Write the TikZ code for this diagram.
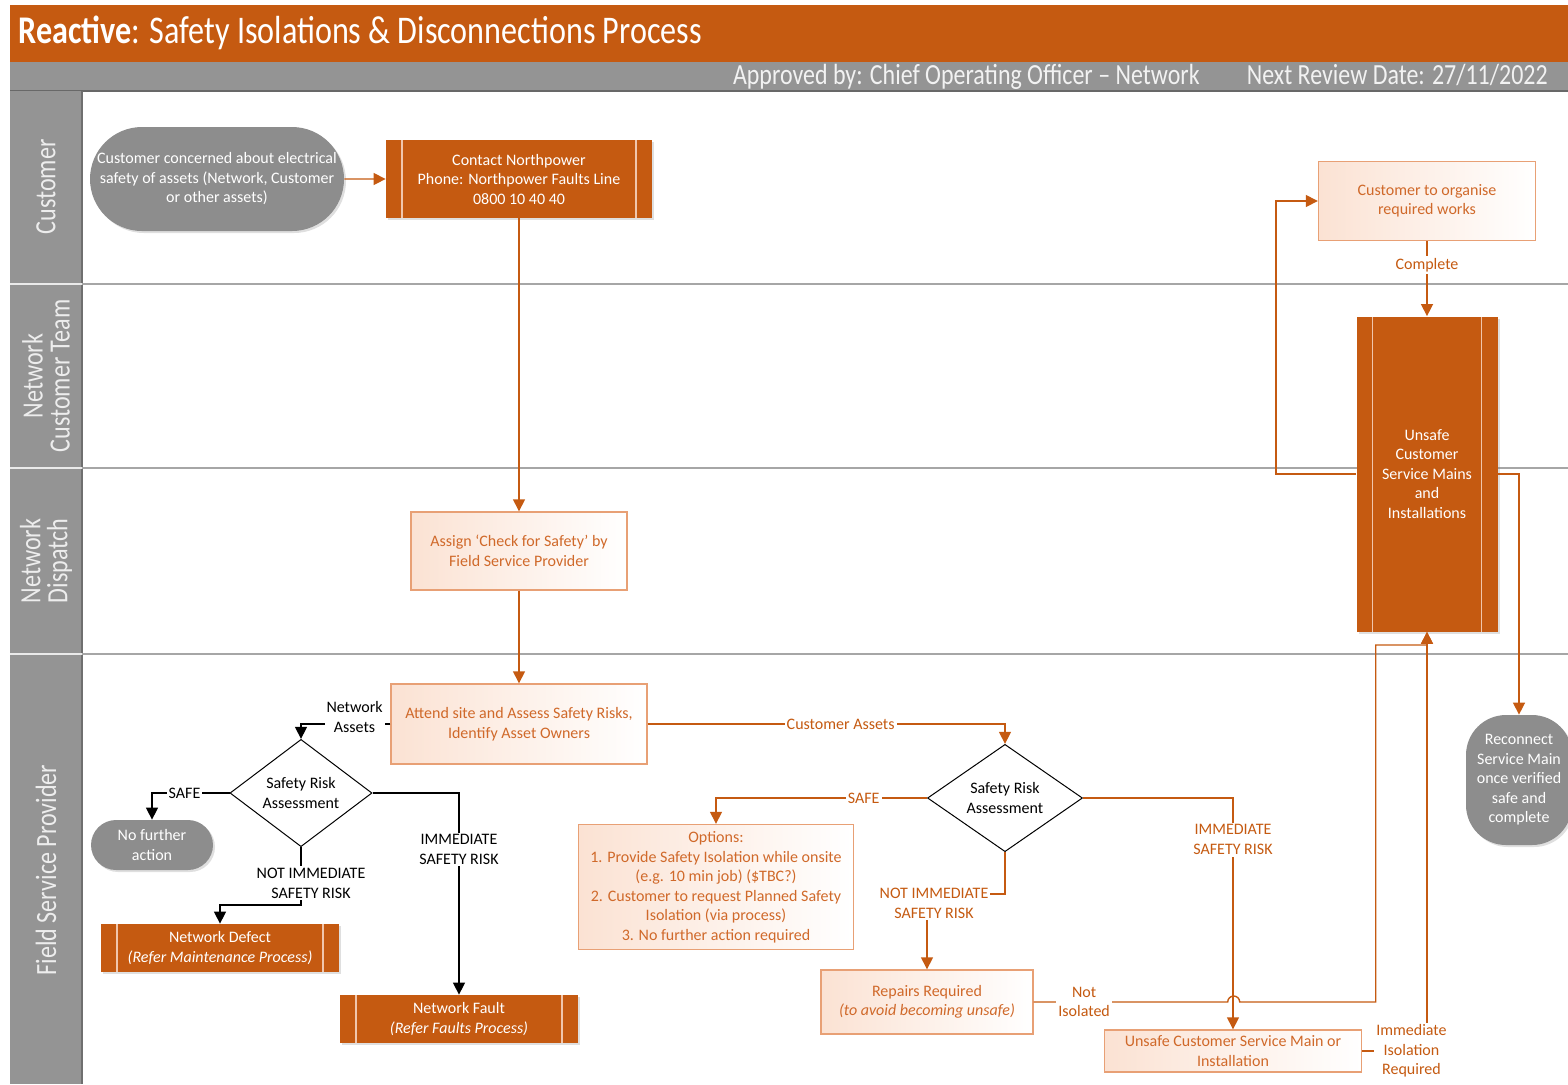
\documentclass[tikz,border=0pt]{standalone}
\usepackage{fontspec}
\setmainfont{Carlito}
\newfontfamily\headfont[FakeStretch=0.82]{Carlito}
\usetikzlibrary{arrows.meta,positioning,shapes.geometric,shapes.misc,shadows}

\definecolor{npOrange}{HTML}{C55A11}
\definecolor{npText}{HTML}{D0692A}
\definecolor{npEdge}{HTML}{E8A075}
\definecolor{npTint}{HTML}{FBE2D3}
\definecolor{npGrey}{HTML}{949494}
\definecolor{npLane}{HTML}{A6A6A6}

\tikzset{
  terminal/.style={rounded rectangle, fill=npGrey!95!black, text=white, align=center,
    inner sep=1pt, drop shadow={opacity=0.25, shadow xshift=1pt, shadow yshift=-1pt}},
  blob/.style={rectangle, rounded corners=20pt, fill=npGrey!95!black, text=white,
    align=center, inner sep=1pt, drop shadow={opacity=0.25, shadow xshift=1pt, shadow yshift=-1pt}},
  subproc/.style={rectangle, fill=npOrange, text=white, align=center, inner sep=1pt,
    drop shadow={opacity=0.25, shadow xshift=1pt, shadow yshift=-1pt},
    path picture={
      \draw [npEdge!60!white, line width=0.6pt]
        ([xshift=8pt]path picture bounding box.north west) -- ([xshift=8pt]path picture bounding box.south west)
        ([xshift=-8pt]path picture bounding box.north east) -- ([xshift=-8pt]path picture bounding box.south east);}},
  task/.style={rectangle, draw=npEdge, line width=0.7pt, left color=npTint, right color=white,
    text=npText, align=center, inner sep=1pt},
  decision/.style={diamond, draw=black, line width=0.5pt, fill=white, align=center, inner sep=0pt},
  flow/.style={draw=npOrange, line width=0.7pt, ->},
  netflow/.style={draw=black, line width=0.7pt, ->},
  lbl/.style={fill=white, text=npOrange, align=center, inner sep=1pt},
  netlbl/.style={fill=white, text=black, align=center, inner sep=1pt},
  lanelbl/.style={rotate=90, text=white!93!black, align=center, font=\headfont\fontsize{14.7}{13.5}\selectfont}
}

\begin{document}
\begin{tikzpicture}[x=0.5pt, y=-0.5pt, >={Triangle[length=6pt, width=6pt]},
  font=\fontsize{8}{9.75}\selectfont]

\useasboundingbox (0,0) rectangle (1568,1084);

\fill [npOrange] (10,5) rectangle (1568,62);
\fill [npGrey] (10,62) rectangle (1568,91);
\draw [npGrey!70!black, line width=0.6pt] (10,91) -- (1568,91);
\node [anchor=base west, text=white, inner sep=0pt, font=\headfont\fontsize{19.6}{22}\selectfont]
  (title) at (18,43) {\textbf{Reactive}: Safety Isolations \& Disconnections Process};
\node [anchor=base east, text=white!95!black, inner sep=0pt, font=\headfont\fontsize{14.6}{16}\selectfont]
  (approved) at (1200,84) {Approved by: Chief Operating Officer – Network};
\node [anchor=base east, text=white!95!black, inner sep=0pt, font=\headfont\fontsize{14.6}{16}\selectfont]
  (review) at (1548,84) {Next Review Date: 27/11/2022};

\fill [npGrey] (10,91) rectangle (82,1084);
\draw [npGrey!75!black, line width=0.6pt] (82,91) -- (82,1084);
\foreach \y in {284,468,654} {
  \draw [npLane, line width=1pt] (82,\y) -- (1568,\y);
  \draw [white!80!npGrey, line width=0.8pt] (10,\y) -- (82,\y);
}
\foreach \l/\y in {Customer/187, Network\\Customer Team/376, Network\\Dispatch/561, Field Service Provider/870}
  \node [lanelbl] at (46,\y) {\l};

\node [terminal, minimum width=129pt, minimum height=52pt] (cust-start) at (217,179)
  {Customer concerned about electrical\\safety of assets (Network, Customer\\or other assets)};
\node [subproc, minimum width=133pt, minimum height=39pt] (np-contact) at (519,179)
  {Contact Northpower\\Phone: Northpower Faults Line\\0800 10 40 40};
\node [task, minimum width=108pt, minimum height=39pt] (dispatch-assign) at (519,551)
  {Assign ‘Check for Safety’ by\\Field Service Provider};
\node [task, minimum width=128pt, minimum height=40pt] (fsp-attend) at (519,724)
  {Attend site and Assess Safety Risks,\\Identify Asset Owners};

\node [decision, minimum width=71pt, minimum height=48.5pt] (risk-net) at (301,793)
  {Safety Risk\\Assessment};
\node [terminal, minimum width=63pt, minimum height=25pt] (no-action) at (152,845)
  {No further\\action};
\node [subproc, minimum width=119pt, minimum height=24pt] (net-defect) at (220,948)
  {Network Defect\\\textit{(Refer Maintenance Process)}};
\node [subproc, minimum width=119pt, minimum height=24pt] (net-fault) at (459,1019)
  {Network Fault\\\textit{(Refer Faults Process)}};

\node [decision, minimum width=77.5pt, minimum height=46.5pt] (risk-cust) at (1005,798)
  {Safety Risk\\Assessment};
\node [task, minimum width=137.5pt, minimum height=62.5pt] (cust-options) at (716,887)
  {Options:\\1. Provide Safety Isolation while onsite\\(e.g. 10 min job) (\$TBC?)\\2. Customer to request Planned Safety\\Isolation (via process)\\3. No further action required};
\node [task, minimum width=106pt, minimum height=32pt] (cust-repairs) at (927,1002)
  {Repairs Required\\\textit{(to avoid becoming unsafe)}};
\node [task, minimum width=128.5pt, minimum height=21pt] (unsafe-main) at (1233,1051)
  {Unsafe Customer Service Main or\\Installation};

\node [subproc, minimum width=70.5pt, minimum height=157.5pt] (unsafe-mains) at (1427,474)
  {Unsafe\\Customer\\Service Mains\\and\\Installations};
\node [task, minimum width=108.5pt, minimum height=39.5pt] (cust-organise) at (1427,201)
  {Customer to organise\\required works};
\node [blob, minimum width=53pt, minimum height=65pt] (reconnect) at (1519,780)
  {Reconnect\\Service Main\\once verified\\safe and\\complete};

\draw [flow] (cust-start) -- (np-contact);
\draw [flow] (np-contact) -- (dispatch-assign);
\draw [flow] (dispatch-assign) -- (fsp-attend);

\draw [netflow] (fsp-attend.west) -| node [netlbl, pos=0.2, yshift=3.5pt] {Network\\Assets} (risk-net.north);
\draw [netflow] (risk-net.west) -| node [netlbl, pos=0.29] {SAFE} (no-action.north);
\draw [netflow] (risk-net.south) -- node [netlbl, pos=0.62, xshift=5pt] {NOT IMMEDIATE\\SAFETY RISK} ++(0,58)
  -| (net-defect.north);
\draw [netflow] (risk-net.east) -| node [netlbl, pos=0.64] {IMMEDIATE\\SAFETY RISK} (net-fault.north);

\draw [flow] (fsp-attend.east) -| node [lbl, pos=0.27] {Customer Assets} (risk-cust.north);
\draw [flow] (risk-cust.west) -| node [lbl, pos=0.15] {SAFE} (cust-options.north);
\draw [flow] (risk-cust.south) -- ++(0,42) -| node [lbl, pos=0.5, xshift=3.5pt, yshift=-4.5pt] {NOT IMMEDIATE\\SAFETY RISK} (cust-repairs.north);
\draw [flow] (risk-cust.east) -| node [lbl, pos=0.59] {IMMEDIATE\\SAFETY RISK} (unsafe-main.north);

\draw [flow] (cust-repairs.east) -- node [lbl, pos=0.26] {Not\\Isolated} ++(194,0)
  arc [start angle=180, end angle=0, radius=3pt] -- ++(136,0) -- ++(0,-357) -| (unsafe-mains.south);
\draw [flow] (unsafe-main.east) -| node [lbl, pos=0.38] {Immediate\\Isolation\\Required} (unsafe-mains.south);

\draw [flow] (unsafe-mains.west) -- ++(-80,0) |- (cust-organise.west);
\draw [flow] (cust-organise) -- node [lbl, pos=0.32] {Complete} (unsafe-mains);
\draw [flow] (unsafe-mains.east) -| (reconnect.north);

\end{tikzpicture}
\end{document}
